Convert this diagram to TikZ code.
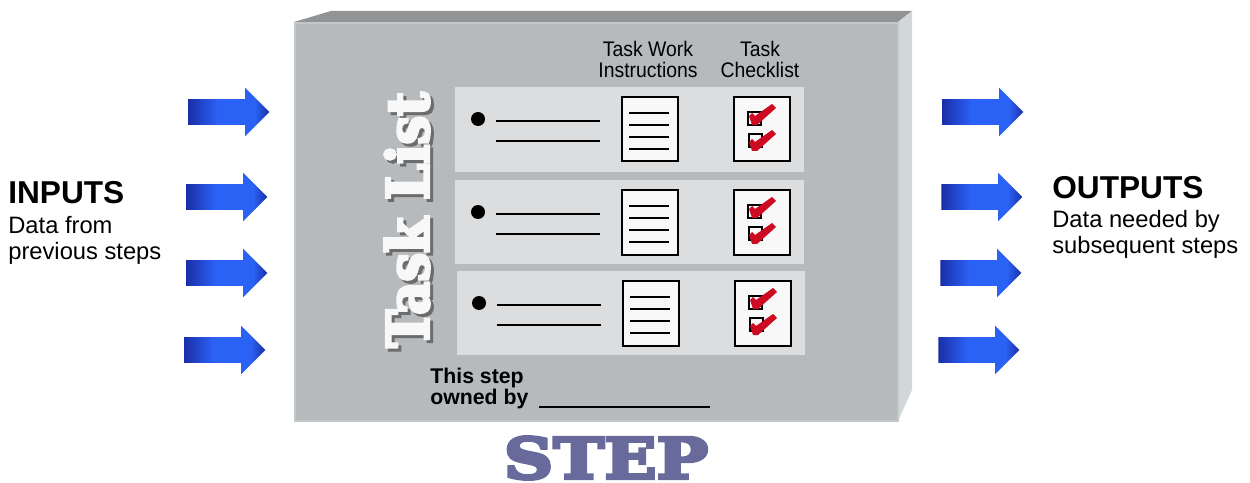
\documentclass[tikz,border=0pt]{standalone}
\usepackage{fontspec}
\usepackage{tikz}
\usetikzlibrary{shapes.arrows}
\setmainfont{Liberation Sans}
\newfontfamily\narrowfont[FakeStretch=0.92]{Liberation Sans}
\newfontfamily\slabfont[FakeStretch=0.88,FakeBold=5]{DejaVu Serif Bold}
\newfontfamily\stepfont[FakeStretch=1.22,FakeBold=6]{DejaVu Serif Bold}
\definecolor{faceC}{HTML}{B6BABD}
\definecolor{topC}{HTML}{929395}
\definecolor{sideC}{HTML}{D2D7DA}
\definecolor{edgeC}{HTML}{C4C8C8}
\definecolor{rowC}{HTML}{DCDDDE}
\definecolor{paperC}{HTML}{F8F8F8}
\definecolor{checkC}{HTML}{CC0A22}
\definecolor{stepC}{HTML}{676A9B}
\definecolor{flowD}{HTML}{1A2FA8}
\definecolor{flowM}{HTML}{2B62F6}
\pgfdeclarehorizontalshading{flowshade}{100bp}{color(0bp)=(flowD); color(25bp)=(flowD); color(43bp)=(flowM); color(66bp)=(flowM); color(75bp)=(flowD); color(100bp)=(flowD)}

\begin{document}
\begin{tikzpicture}[
  x=0.2mm, y=-0.2mm,
  rowbox/.style={fill=rowC, minimum width=69.7mm, minimum height=16.9mm, inner sep=0pt},
  sheet/.style={draw=black, line width=0.4mm, fill=paperC, minimum width=11.2mm, minimum height=12.8mm, inner sep=0pt},
  tick/.style={draw=black, line width=0.4mm, fill=none, minimum size=2.5mm, inner sep=0pt},
  rule/.style={line width=0.3mm},
  flow/.style={single arrow, anchor=tail, minimum height=16.2mm, minimum width=9.6mm,
               single arrow head extend=2.3mm, single arrow head indent=0pt, inner xsep=0pt, inner ysep=2.5mm,
               shading=flowshade},
  head/.style={font=\narrowfont\fontsize{12}{12}\selectfont, align=center, inner sep=0pt},
  big/.style={font=\fontsize{18}{20}\selectfont\bfseries, anchor=base west, inner sep=0pt},
  sub/.style={font=\fontsize{13.5}{15}\selectfont, align=left, anchor=north west, inner sep=0pt}
]
\useasboundingbox (0,0) rectangle (1250,483);

\fill[topC]  (294,22) -- (331,11) -- (912,11) -- (898,22) -- cycle;
\fill[sideC] (898,22) -- (912,11) -- (912,390) -- (898,421) -- cycle;
\fill[faceC, draw=edgeC, line width=0.4mm] (295,23) rectangle (898,421);

\node[rowbox] (row1) at (629.5,129.5) {};
\node[rowbox, minimum height=16.8mm] (row2) at (629.5,222) {};
\node[rowbox, minimum height=16.8mm] (row3) at (631,313) {};

\foreach \i/\dx/\dy in {1/0/0, 2/0/93, 3/1/184}{
  \begin{scope}[shift={(\dx,\dy)}]
    \fill (478,119) circle (7);
    \draw[rule] (496,121) -- (600,121);
    \draw[rule] (496,141) -- (600,141);
    \node[sheet] (doc\i) at (650,129.5) {};
    \foreach \ly in {113,125,137,149}
      \draw[rule] (629,\ly) -- (669,\ly);
    \node[sheet] (chk\i) at (761.5,129.5) {};
    \node[tick] (boxa\i) at (754.5,118.5) {};
    \node[tick] (boxb\i) at (755.5,140.5) {};
    \foreach \cy in {0,26}
      \fill[checkC, shift={(0,\cy)}] (749,116) -- (752,113) -- (755,116) -- (772,104) -- (776,108)
        -- (757,125) -- (752,125) -- cycle;
  \end{scope}
}

\node[head] (instr) at (648,59.5) {Task Work\\Instructions};
\node[head] (check) at (760,59.5) {Task\\Checklist};

\node[rotate=90, text=gray!85!black, font=\slabfont\fontsize{33}{33}\selectfont, inner sep=0pt] (listshade) at (410,223) {Task List};
\node[rotate=90, text=paperC, font=\slabfont\fontsize{33}{33}\selectfont, inner sep=0pt] (list) at (407,220) {Task List};

\node[font=\fontsize{12.1}{11.9}\selectfont\bfseries, align=left, anchor=north west, inner sep=0pt] (owner) at (430,368) {This step\\owned by};
\coordinate (lineL) at (539,407);
\coordinate (lineR) at (710,407);
\draw[line width=0.4mm] (lineL) -- (lineR);

\node[text=stepC, font=\stepfont\fontsize{32}{32}\selectfont, inner sep=0pt] (step) at (606,458) {STEP};

\node[flow] (in1) at (188,112) {};
\node[flow] (in2) at (186,197) {};
\node[flow] (in3) at (186,273) {};
\node[flow] (in4) at (184,350) {};
\node[flow] (out1) at (942,112) {};
\node[flow] (out2) at (941,197) {};
\node[flow] (out3) at (940,273) {};
\node[flow] (out4) at (938,350) {};

\node[big] (inputs) at (8,204) {INPUTS};
\node[sub] (intext) at (8,216) {Data from\\previous steps};
\node[big] (outputs) at (1052,199) {OUTPUTS};
\node[sub] (outtext) at (1052,210) {Data needed by\\subsequent steps};
\end{tikzpicture}
\end{document}
